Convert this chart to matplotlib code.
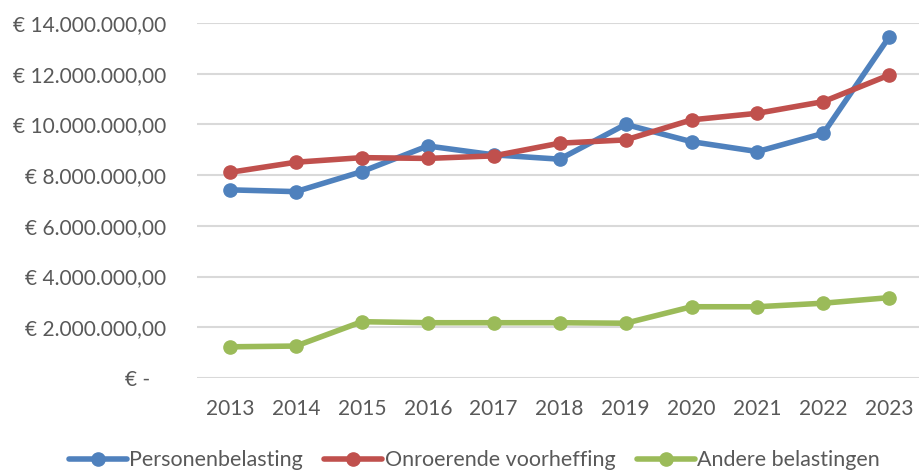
import matplotlib
matplotlib.use("Agg")
from matplotlib import pyplot as plt
from matplotlib.ticker import FuncFormatter

years = ['2013', '2014', '2015', '2016', '2017', '2018', '2019', '2020', '2021', '2022', '2023']
personenbelasting = [7.42e6, 7.35e6, 8.14e6, 9.15e6, 8.80e6, 8.63e6, 10.0e6, 9.32e6, 8.93e6, 9.65e6, 13.46e6]
onroerende_voorheffing = [8.11e6, 8.51e6, 8.69e6, 8.66e6, 8.76e6, 9.26e6, 9.39e6, 10.18e6, 10.44e6, 10.90e6, 11.95e6]
andere_belastingen = [1.23e6, 1.26e6, 2.22e6, 2.18e6, 2.18e6, 2.18e6, 2.16e6, 2.81e6, 2.81e6, 2.95e6, 3.17e6]

series = [
    ('Personenbelasting', personenbelasting, '#4F81BD'),
    ('Onroerende voorheffing', onroerende_voorheffing, '#C0504D'),
    ('Andere belastingen', andere_belastingen, '#9BBB59'),
]

plt.rcParams['font.family'] = ['Lato', 'DejaVu Sans']
text_color = '#595959'

fig = plt.figure(figsize=(9.19, 4.73), dpi=100)
ax = fig.add_axes([197 / 919, 1 - 378 / 473, 1 - 197 / 919, 355 / 473])

x = list(range(len(years)))
for label, values, color in series:
    ax.plot(x, values, color=color, lw=4, marker='o', markersize=9.5, label=label,
            solid_capstyle='round', zorder=3)


def euro(v, pos):
    # Excel accounting style: zero shown as a dash
    if v == 0:
        return '€ -   '
    s = f'{v:,.2f}'.replace(',', 'X').replace('.', ',').replace('X', '.')
    return '€ ' + s


ax.yaxis.set_major_formatter(FuncFormatter(euro))
ax.set_ylim(0, 14e6)
ax.set_yticks([i * 2e6 for i in range(8)])
ax.set_xlim(-0.5, 10.45)
ax.set_xticks(x)
ax.set_xticklabels(years)

ax.grid(axis='y', color='#D9D9D9', lw=1.5)
ax.set_axisbelow(True)
for s in ax.spines.values():
    s.set_visible(False)
ax.tick_params(axis='both', length=0, labelsize=15, colors=text_color)
ax.tick_params(axis='y', pad=22)
ax.tick_params(axis='x', pad=15)

fig.legend(loc='lower center', bbox_to_anchor=(0.516, -0.035), ncol=3, frameon=False,
           fontsize=15.5, labelcolor=text_color, handlelength=2.7, handletextpad=0.1,
           columnspacing=1.0)

fig.savefig('out.png', dpi=100)
